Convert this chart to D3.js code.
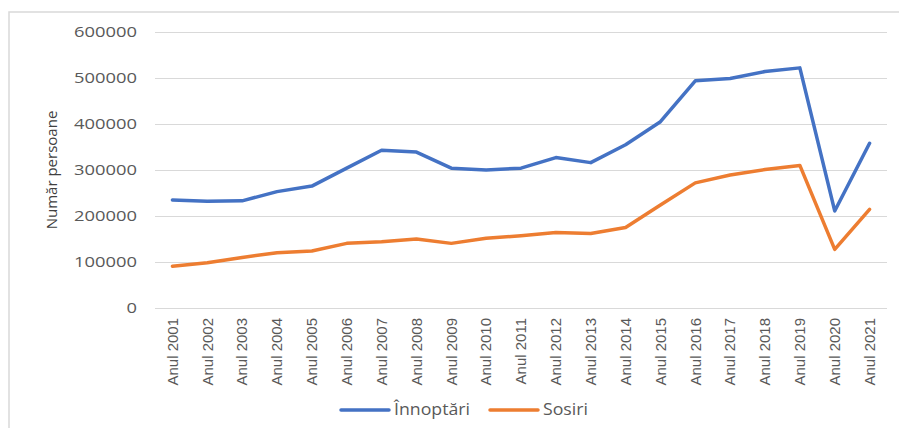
<!DOCTYPE html>
<meta charset="utf-8">
<style>
body { margin: 0; background: #fff; }
svg { display: block; }
.grid line { stroke: #d9d9d9; stroke-width: 1; shape-rendering: crispEdges; }
.ytick { font: 14px "Open Sans", sans-serif; fill: #595959; }
.xtick { font: 15px "Liberation Sans Narrow", "Liberation Sans", sans-serif; fill: #595959; }
.ytitle { font: 15px "Liberation Sans Narrow", "Open Sans", sans-serif; fill: #404040; }
.legend text { font: 15.5px "Open Sans", sans-serif; fill: #595959; }
</style>
<body>
<script src="https://cdn.jsdelivr.net/npm/d3@7"></script>
<script>

var years = ["Anul 2001","Anul 2002","Anul 2003","Anul 2004","Anul 2005","Anul 2006","Anul 2007",
             "Anul 2008","Anul 2009","Anul 2010","Anul 2011","Anul 2012","Anul 2013","Anul 2014",
             "Anul 2015","Anul 2016","Anul 2017","Anul 2018","Anul 2019","Anul 2020","Anul 2021"];

var innoptari = [235000, 232000, 233000, 253000, 265000, 304000, 343000, 339000, 304000, 300000,
                 304000, 327000, 316000, 355000, 405000, 494000, 499000, 514000, 522000, 211000, 358000];

var sosiri = [91000, 98500, 110000, 120000, 124000, 140500, 144000, 150000, 140500, 151500,
              157000, 164000, 162000, 175000, 224000, 272000, 289000, 301000, 310000, 127500, 214500];

var yTicks = [0, 100000, 200000, 300000, 400000, 500000, 600000];

var series = [
  { name: "Înnoptări", values: innoptari, color: "#4472c4" },
  { name: "Sosiri", values: sosiri, color: "#ed7d31" }
];

var width = 899, height = 428;

var svg = d3.select("body").append("svg")
    .attr("width", width)
    .attr("height", height);

// chart frame (cut off at right and bottom in the original)
svg.append("rect")
    .attr("x", 9).attr("y", 12)
    .attr("width", 920).attr("height", 440)
    .attr("fill", "none")
    .attr("stroke", "#d9d9d9")
    .attr("stroke-width", 1.5);

var x = d3.scaleBand()
    .domain(years)
    .range([155, 887]);

var y = d3.scaleLinear()
    .domain([0, 600000])
    .range([308, 32]);

function cx(d) { return x(d) + x.bandwidth() / 2; }

// gridlines
svg.append("g")
    .attr("class", "grid")
    .selectAll("line")
    .data(yTicks)
    .enter().append("line")
    .attr("x1", x.range()[0])
    .attr("x2", x.range()[1])
    .attr("y1", function(d) { return Math.round(y(d)) + 0.5; })
    .attr("y2", function(d) { return Math.round(y(d)) + 0.5; });

// y tick labels
svg.append("g")
    .selectAll("text")
    .data(yTicks)
    .enter().append("text")
    .attr("class", "ytick")
    .attr("x", 137)
    .attr("y", function(d) { return y(d); })
    .attr("dy", "0.35em")
    .attr("text-anchor", "end")
    .attr("textLength", function(d) { return String(d).length * 10.5; })
    .attr("lengthAdjust", "spacingAndGlyphs")
    .text(function(d) { return d; });

// y axis title
svg.append("text")
    .attr("class", "ytitle")
    .attr("transform", "translate(52," + (y.range()[0] + y.range()[1]) / 2 + ") rotate(-90)")
    .attr("dy", "0.35em")
    .attr("text-anchor", "middle")
    .text("Număr persoane");

// x tick labels
svg.append("g")
    .selectAll("text")
    .data(years)
    .enter().append("text")
    .attr("class", "xtick")
    .attr("transform", function(d) { return "translate(" + cx(d) + ",318) rotate(-90)"; })
    .attr("dy", "0.35em")
    .attr("text-anchor", "end")
    .text(function(d) { return d; });

// lines
var line = d3.line()
    .x(function(d, i) { return cx(years[i]); })
    .y(function(d) { return y(d); });

svg.append("g")
    .selectAll("path")
    .data(series)
    .enter().append("path")
    .attr("d", function(s) { return line(s.values); })
    .attr("fill", "none")
    .attr("stroke", function(s) { return s.color; })
    .attr("stroke-width", 3.5)
    .attr("stroke-linejoin", "round")
    .attr("stroke-linecap", "round");

// legend
var legendX = [341, 490];
var legendTextW = [76, 45];
var legend = svg.append("g")
    .attr("class", "legend")
    .selectAll("g")
    .data(series)
    .enter().append("g")
    .attr("transform", function(s, i) { return "translate(" + legendX[i] + ",410)"; });

legend.append("line")
    .attr("x1", 0).attr("x2", 48)
    .attr("stroke", function(s) { return s.color; })
    .attr("stroke-width", 3.5)
    .attr("stroke-linecap", "round");

legend.append("text")
    .attr("x", 53)
    .attr("dy", "0.35em")
    .attr("textLength", function(s, i) { return legendTextW[i]; })
    .attr("lengthAdjust", "spacingAndGlyphs")
    .text(function(s) { return s.name; });

</script>
</body>
